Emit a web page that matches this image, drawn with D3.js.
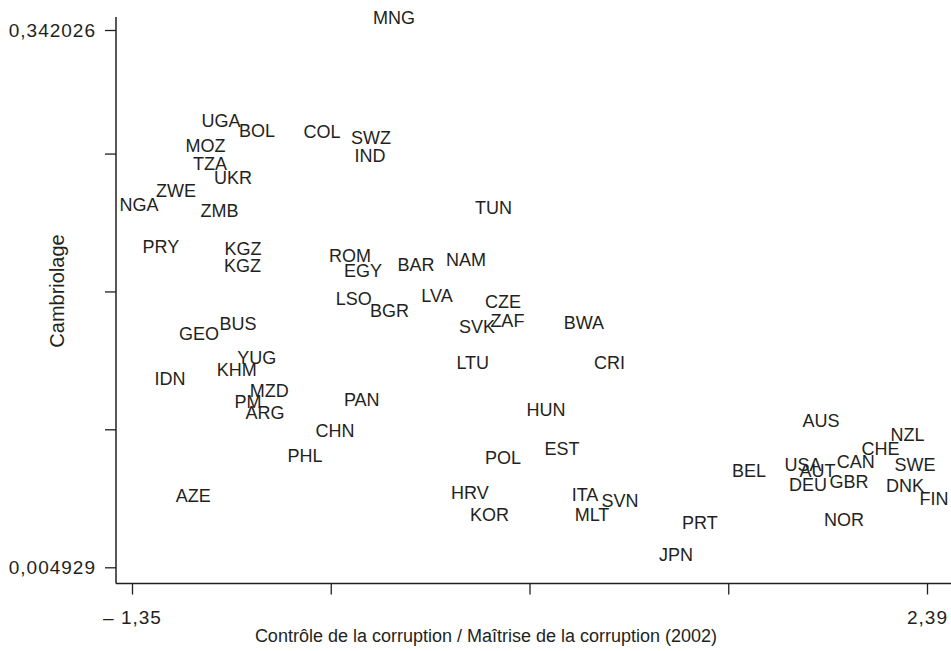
<!DOCTYPE html>
<html>
<head>
<meta charset="utf-8">
<script src="https://cdn.jsdelivr.net/npm/d3@7"></script>
<style>
  body { margin: 0; background: #fff; }
  svg text { font-family: "Liberation Sans", Arial, Helvetica, sans-serif; fill: #231f20; }
</style>
</head>
<body>
<svg id="chart" width="951" height="651"></svg>
<script>
// country codes, corruption control (x), burglary rate (y)
var codes = ["MNG","UGA","BOL","COL","SWZ","IND","MOZ","TZA","UKR","ZWE","NGA","ZMB","TUN",
  "PRY","KGZ","KGZ","GEO","BUS","YUG","KHM","IDN","MZD","PM","ARG",
  "ROM","EGY","BAR","NAM","LSO","BGR","LVA","CZE","ZAF","SVK","BWA","LTU","CRI",
  "PAN","HUN","CHN","EST","POL","PHL","HRV","KOR","ITA","SVN","MLT","AZE","PRT","JPN",
  "AUS","NZL","CHE","CAN","SWE","USA","AUT","BEL","DEU","GBR","DNK","FIN","NOR"];
var corruption = [-0.150,-0.964,-0.795,-0.489,-0.259,-0.263,-1.037,-1.016,-0.908,-1.176,-1.350,-0.971,0.318,
  -1.247,-0.861,-0.863,-1.068,-0.884,-0.796,-0.890,-1.204,-0.737,-0.837,-0.757,
  -0.357,-0.296,-0.047,0.188,-0.340,-0.171,0.052,0.362,0.383,0.240,0.743,0.220,0.863,
  -0.302,0.565,-0.428,0.640,0.362,-0.569,0.207,0.299,0.748,0.913,0.781,-1.095,1.289,1.176,
  1.858,2.265,2.138,2.022,2.301,1.774,1.842,1.520,1.797,1.990,2.254,2.390,1.967];
var burglary = [0.3420,0.2774,0.2711,0.2705,0.2667,0.2554,0.2614,0.2504,0.2416,0.2332,0.2250,0.2209,0.2231,
  0.1982,0.1970,0.1866,0.1437,0.1499,0.1290,0.1209,0.1157,0.1083,0.1014,0.0939,
  0.1927,0.1833,0.1871,0.1899,0.1660,0.1585,0.1679,0.1638,0.1522,0.1479,0.1504,0.1253,0.1256,
  0.1022,0.0961,0.0832,0.0719,0.0658,0.0675,0.0437,0.0305,0.0426,0.0390,0.0305,0.0424,0.0249,0.0049,
  0.0889,0.0801,0.0713,0.0633,0.0613,0.0617,0.0575,0.0581,0.0490,0.0506,0.0484,0.0402,0.0271];

var xTicks = [-1.35, -0.415, 0.52, 1.455, 2.39];
var yTicks = [0.004929, 0.0915, 0.178, 0.2645, 0.342026];
var xEndLabels = {"-1.35": "\u2013 1,35", "2.39": "2,39"};
var yEndLabels = {"0.004929": "0,004929", "0.342026": "0,342026"};

var svg = d3.select('#chart');
var x = d3.scaleLinear().domain([-1.35, 2.39]).range([132, 927]);
var y = d3.scaleLinear().domain([0.004929, 0.342026]).range([567.3, 30]);

var axisX = 116, axisY = 583.5, fs = 18;

// y axis
var gy = svg.append('g').attr('transform', 'translate(' + axisX + ',0)')
  .call(d3.axisLeft(y).tickValues(yTicks).tickSize(11).tickPadding(9)
    .tickFormat(d => yEndLabels[String(d)] || ''));
gy.select('.domain').remove();
gy.selectAll('.tick line').attr('stroke', '#231f20').attr('stroke-width', 1.3);
gy.selectAll('.tick text').attr('font-size', 19).attr('letter-spacing', 1).attr('font-family', null);

// x axis
var gx = svg.append('g').attr('transform', 'translate(0,' + axisY + ')')
  .call(d3.axisBottom(x).tickValues(xTicks).tickSize(11).tickPadding(16)
    .tickFormat(d => xEndLabels[String(d)] || ''));
gx.select('.domain').remove();
gx.selectAll('.tick line').attr('stroke', '#231f20').attr('stroke-width', 1.3);
gx.selectAll('.tick text').attr('font-size', 19).attr('letter-spacing', 1).attr('font-family', null);

// axis lines
svg.append('line').attr('x1', axisX).attr('x2', axisX).attr('y1', 17).attr('y2', axisY)
  .attr('stroke', '#231f20').attr('stroke-width', 1.5);
svg.append('line').attr('x1', axisX).attr('x2', 951).attr('y1', axisY).attr('y2', axisY)
  .attr('stroke', '#231f20').attr('stroke-width', 1.5);

// titles
svg.append('text').attr('transform', 'translate(64,291) rotate(-90)')
  .attr('text-anchor', 'middle').attr('font-size', 20).text('Cambriolage');
svg.append('text').attr('x', 486).attr('y', 642)
  .attr('text-anchor', 'middle').attr('font-size', fs)
  .text('Contr\u00f4le de la corruption / Ma\u00eetrise de la corruption (2002)');

// marker labels, drawn just above each point
svg.append('g').selectAll('text')
  .data(codes)
  .enter()
  .append('text')
  .attr('x', (d, i) => x(corruption[i]) + 7)
  .attr('y', (d, i) => y(burglary[i]) - 12.5)
  .attr('dy', '0.36em')
  .attr('text-anchor', 'middle')
  .attr('font-size', fs)
  .text(d => d);
</script>
</body>
</html>
